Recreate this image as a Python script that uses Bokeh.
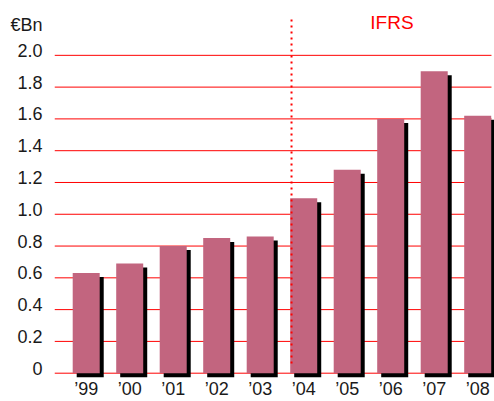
import numpy as np
from bokeh.plotting import figure
from bokeh.models import ColumnDataSource, FixedTicker, CustomJSTickFormatter, Range1d
from bokeh.core.properties import value
from bokeh.embed import file_html
from bokeh.resources import INLINE

# ---- data ----
years = ["\u201999", "\u201900", "\u201901", "\u201902", "\u201903",
         "\u201904", "\u201905", "\u201906", "\u201907", "\u201908"]
values = [0.63, 0.69, 0.80, 0.85, 0.86, 1.10, 1.28, 1.60, 1.90, 1.62]
y_ticks = [0.0, 0.2, 0.4, 0.6, 0.8, 1.0, 1.2, 1.4, 1.6, 1.8, 2.0]
unit_label = "\u20acBn"
ifrs_label = "IFRS"
ifrs_first_year = 5  # index of '04

# ---- styles ----
FONT = "Liberation Sans"
BAR = "#c2657f"
RED = "#ff0000"

X0, X1 = -0.729, 9.386
GRID_END = 9.317
x = np.arange(len(values))
bw = 0.621
dx = 0.092   # shadow offset (x)
dy = 0.025   # shadow offset (y)
label_lift = 0.028  # y-labels sit just above their grid line

bars = ColumnDataSource(dict(x=x, top=values))
shadow = ColumnDataSource(dict(x=x + dx, top=np.array(values) - dy))

p = figure(width=494, height=401, output_backend="svg", toolbar_location=None,
           x_range=Range1d(X0, X1), y_range=Range1d(-0.0334, 2.345),
           min_border_left=54, min_border_right=0, min_border_top=0, min_border_bottom=0)
p.outline_line_color = None
p.xgrid.grid_line_color = None
p.ygrid.grid_line_color = None
p.background_fill_color = "white"
p.border_fill_color = "white"

# grid lines
gl = ColumnDataSource(dict(y=y_ticks, x0=[X0] * len(y_ticks), x1=[GRID_END] * len(y_ticks)))
p.segment(x0="x0", y0="y", x1="x1", y1="y", source=gl, line_color=RED, line_width=1)

# shadows and bars
p.vbar(x="x", top="top", bottom=-dy, width=bw, source=shadow,
       fill_color="black", line_color=None)
p.vbar(x="x", top="top", bottom=0, width=bw, source=bars,
       fill_color=BAR, line_color=None)

# IFRS divider
xd = ifrs_first_year - 0.28
p.segment(x0=[xd], y0=[0.061], x1=[xd], y1=[2.225], line_color=RED,
          line_width=2, line_dash="2 4")
p.text(x=[7.028], y=[2.205], text=[ifrs_label], text_color=RED,
       text_font=value(FONT), text_font_size="19px",
       text_align="center", text_baseline="middle")

# axes
unit_pos = 2.193
p.yaxis.ticker = FixedTicker(ticks=[t + label_lift for t in y_ticks] + [unit_pos])
p.yaxis.formatter = CustomJSTickFormatter(args=dict(unit=unit_label), code="""
    if (tick > 2.1) return unit;
    const v = Math.round(tick * 5) / 5;
    if (v < 1e-9) return "0";
    return v.toFixed(1);
""")
p.xaxis.ticker = FixedTicker(ticks=list(range(len(years))))
p.xaxis.formatter = CustomJSTickFormatter(args=dict(labels=years),
                                          code="return labels[Math.round(tick)];")
for ax in (p.xaxis, p.yaxis):
    ax.axis_line_color = None
    ax.major_tick_line_color = None
    ax.minor_tick_line_color = None
    ax.major_tick_in = 0
    ax.major_tick_out = 0
    ax.major_label_text_font = FONT
    ax.major_label_text_font_size = "18px"
    ax.major_label_text_color = "#1a1a1a"
p.yaxis.major_label_standoff = 12
p.xaxis.major_label_standoff = 0

open("out.html", "w").write(file_html(p, INLINE))
